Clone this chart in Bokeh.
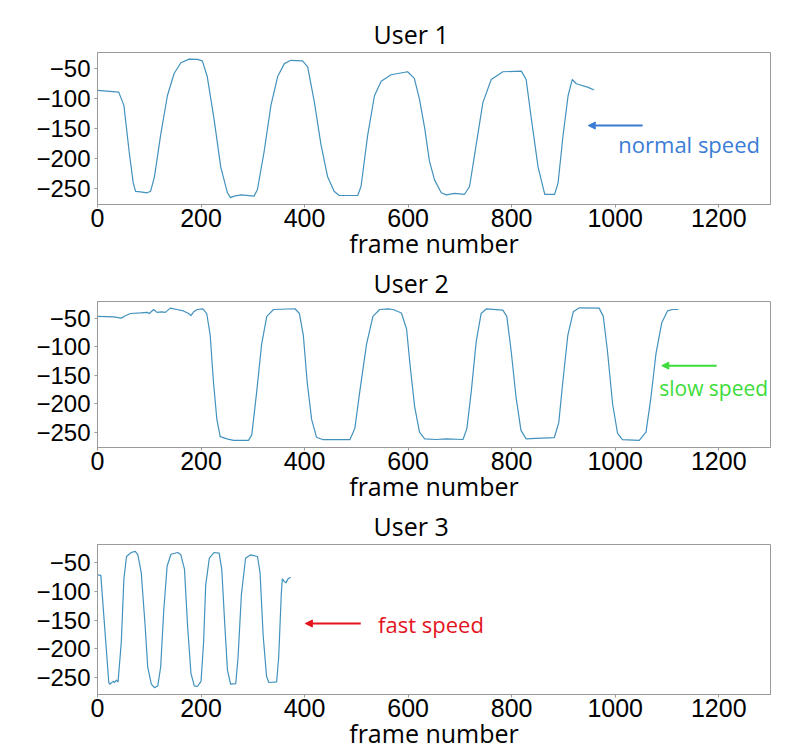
from bokeh.plotting import figure
from bokeh.layouts import column
from bokeh.models import Range1d, Label, Arrow, NormalHead, FixedTicker
from bokeh.embed import file_html
from bokeh.resources import INLINE

# ---------------- data ----------------
user1_frame = [0, 41, 51, 61, 69, 73.5, 83, 96, 102.5, 110, 122, 135, 148, 161, 177, 193, 202.5,
               212, 225, 238, 251, 257, 264, 277, 302.6, 309, 322, 335, 348, 361, 373.5, 396,
               406, 419, 431.6, 444.5, 457, 467, 502.6, 509, 522, 535, 548, 567, 599,
               612, 622, 632, 641, 651, 664, 674, 690, 709, 718.7, 731.6, 744.5, 760.6, 783, 818.7,
               828, 838, 851, 864, 883, 889.7, 899.4, 909, 917, 925, 948, 959]
user1_value = [-87, -90, -112, -188, -241, -255, -256, -257.5, -255, -231, -161, -96, -59, -41, -35, -35.5, -38,
               -64, -134, -214.5, -257.5, -265.6, -263, -261, -263, -252, -188, -112, -64, -42.5, -37, -38,
               -48, -107, -177, -231, -255, -262, -262, -247, -161, -96, -72, -61, -56,
               -67, -102, -150, -204, -236, -257.5, -261, -258.6, -260, -247, -177, -107, -69, -56, -55,
               -69, -134, -214.5, -260, -260, -241, -161, -96, -69, -76, -82, -86.5]

user2_frame = [0, 31.5, 45.6, 54, 63.6, 83, 95.7, 100, 108.5, 115, 124.6, 131, 140.7, 153.5, 166, 176,
               180.5, 185.6, 193, 203.6, 211, 217.7, 224, 230.6, 237, 250, 263, 291.6, 298, 307.6,
               317, 327, 340, 381.5, 390, 397.6, 405, 413.6, 423, 436, 487.5, 497, 506.7, 519.6,
               532, 545, 561, 571, 587, 597, 604, 612.7, 622, 632, 654.5, 674, 706, 713.5, 722,
               731.5, 741, 751, 783, 790.6, 799, 808.6, 818, 828, 847, 882.5, 891, 898.8, 908.5,
               919, 930.7, 969, 977, 985, 995, 1004.6, 1014, 1046.5, 1059.5, 1069, 1078.7, 1090,
               1101, 1110.7, 1122]
user2_value = [-47, -48, -50, -46, -42, -41, -40, -42, -35, -40, -39, -40, -32.5, -35, -37.5, -42,
               -45.6, -39, -35, -34, -42, -80, -161.7, -227, -257, -261, -263.5, -263.5, -254, -178,
               -96, -47, -35, -33.7, -42, -80, -161.7, -227, -258, -262.4, -262.4, -243, -178, -96,
               -47, -35, -34, -35, -41, -69, -134, -205, -249, -261, -262, -261, -262, -243, -178,
               -91, -42, -34, -36, -47, -107, -189, -246, -261, -260, -258.6, -232.6, -161.7, -80,
               -39, -32, -32.6, -47, -107, -200, -251.5, -262.4, -263.5, -249, -189, -112.6, -58,
               -37.5, -35, -35]

user3_frame = [0, 6.4, 21.8, 23.7, 30, 33, 36.5, 39.7, 46, 51, 56, 65, 73, 78, 84.5, 92, 97, 104,
               110, 116.5, 122, 128, 134.5, 142, 155, 161, 168, 174, 180.5, 187, 193, 200, 205,
               209, 216, 225, 235, 240, 246, 251, 257, 267, 271.5, 278, 286, 296, 309, 314, 320,
               326.5, 331, 346, 350, 355, 357, 361, 364, 368, 373]
user3_value = [-71, -72, -259, -262, -257, -259, -255, -258, -188, -78, -39, -32, -30, -36, -67, -160,
               -232, -262, -268, -265, -232, -133, -55.5, -35, -32, -36, -61, -160, -243, -265,
               -266, -257, -188, -89, -42, -32, -33, -61, -160, -237, -262, -261, -215, -105, -42,
               -36, -39, -67, -177, -248, -259, -258, -215, -105, -78, -83, -85, -78, -75]

titles = ["User 1", "User 2", "User 3"]
x_ticks = [0, 200, 400, 600, 800, 1000, 1200]
y_ticks = [-250, -200, -150, -100, -50]
y_ranges = [(-277, -24), (-276, -21), (-280, -18)]

notes = ["normal speed", "slow speed", "fast speed"]
note_colors = ["#3a7dd6", "#3ddc3a", "#e3141e"]
arrow_from = [(1053, -145.6), (1196, -133), (508.5, -156)]
arrow_to = [(948, -145.6), (1090, -133), (401.5, -156)]
note_pos = [(1006, -177), (1085, -171.6), (542, -156)]
note_sizes = ["22px", "21px", "22px"]

LINE = "#4292bd"
GRAY = "#9a9a9a"

series = [(user1_frame, user1_value), (user2_frame, user2_value), (user3_frame, user3_value)]
heights = [262, 243, 247]
top_borders = [52, 34, 31]
bottom_borders = [53, 53, 58]

plots = []
for i in range(3):
    p = figure(width=792, height=heights[i], output_backend="svg", toolbar_location=None,
               x_range=Range1d(0, 1300), y_range=Range1d(*y_ranges[i]),
               min_border_left=97, min_border_right=22,
               min_border_top=top_borders[i], min_border_bottom=bottom_borders[i])
    p.title.text = titles[i]
    p.title.text_font = "Open Sans"
    p.title.text_font_size = "25px"
    p.title.text_font_style = "normal"
    p.title.text_color = "black"
    p.title.align = "left"
    p.title.offset = 276
    p.title.standoff = 3
    p.grid.visible = False
    p.outline_line_color = GRAY
    p.outline_line_width = 1
    p.background_fill_color = "white"
    p.border_fill_color = "white"

    fx, fy = series[i]
    p.line(fx, fy, line_color=LINE, line_width=1.2, line_join="round")

    for ax in (p.xaxis[0], p.yaxis[0]):
        ax.axis_line_color = GRAY
        ax.major_tick_line_color = GRAY
        ax.minor_tick_line_color = None
        ax.major_tick_in = 0
        ax.major_tick_out = 3
        ax.major_label_text_font = "Liberation Sans"
        ax.major_label_text_color = "black"
    p.xaxis.ticker = FixedTicker(ticks=x_ticks)
    p.yaxis.ticker = FixedTicker(ticks=y_ticks)
    p.xaxis.major_label_text_font_size = "25px"
    p.yaxis.major_label_text_font_size = "24px"
    p.xaxis.major_label_standoff = 1
    p.yaxis.major_label_standoff = 4
    p.xaxis.axis_label = "frame number"
    p.xaxis.axis_label_text_font = "Open Sans"
    p.xaxis.axis_label_text_font_size = "25px"
    p.xaxis.axis_label_text_font_style = "normal"
    p.xaxis.axis_label_text_color = "black"
    p.xaxis.axis_label_standoff = -4

    (x0, y0), (x1, y1) = arrow_from[i], arrow_to[i]
    p.add_layout(Arrow(x_start=x0, y_start=y0, x_end=x1, y_end=y1,
                       line_color=note_colors[i], line_width=2,
                       end=NormalHead(size=7, fill_color=note_colors[i], line_color=note_colors[i])))
    tx, ty = note_pos[i]
    p.add_layout(Label(x=tx, y=ty, text=notes[i], text_color=note_colors[i],
                       text_font="Open Sans", text_font_size=note_sizes[i],
                       text_align="left", text_baseline="middle"))
    plots.append(p)

layout = column(*plots, spacing=0)
open("out.html", "w").write(file_html(layout, INLINE))
